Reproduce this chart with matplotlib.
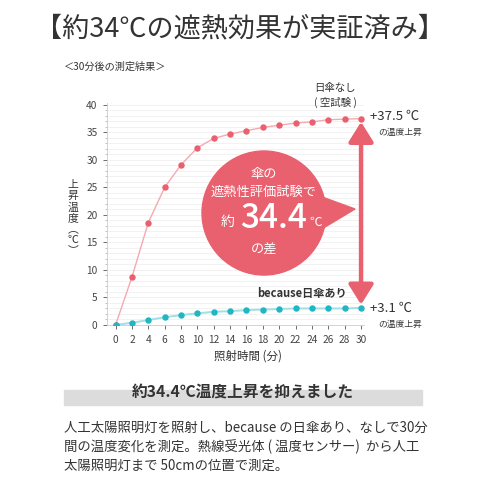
import numpy as np
import matplotlib
matplotlib.use("Agg")
import matplotlib.pyplot as plt
from matplotlib.patches import Circle, Polygon, Rectangle

plt.rcParams['font.family'] = ['Noto Sans CJK JP', 'DejaVu Sans']

minutes = [0, 2, 4, 6, 8, 10, 12, 14, 16, 18, 20, 22, 24, 26, 28, 30]
no_umbrella = [0, 8.7, 18.6, 25.0, 29.1, 32.2, 33.9, 34.7, 35.3, 35.9, 36.3, 36.7, 36.9, 37.3, 37.4, 37.5]
with_umbrella = [0, 0.4, 0.9, 1.4, 1.8, 2.1, 2.4, 2.5, 2.7, 2.8, 2.9, 3.0, 3.0, 3.0, 3.0, 3.1]
yticks = [0, 5, 10, 15, 20, 25, 30, 35, 40]

red = '#e9606f'
red_line = '#f5a9b0'
blue = '#20b6c2'
blue_line = '#9fe0e4'
dark = '#333333'

fig = plt.figure(figsize=(4.8, 4.8), dpi=100)
ax = fig.add_axes([0.222, 0.323, 0.537, 0.462])

ax.plot(minutes, no_umbrella, color=red_line, lw=1, zorder=2)
ax.plot(minutes, no_umbrella, 'o', color=red, ms=3.6, zorder=3)
ax.plot(minutes, with_umbrella, color=blue_line, lw=1.4, zorder=2)
ax.plot(minutes, with_umbrella, 'o', color=blue, ms=3.6, zorder=3)

ax.set_xlim(-1.1, 30.4)
ax.set_ylim(0, 40.3)
ax.set_xticks(minutes)
ax.set_yticks(yticks)
ax.set_yticks(np.arange(0, 41, 1), minor=True)
ax.tick_params(axis='both', labelsize=7.3, colors='#555555', length=3, width=0.6, direction='out')
ax.tick_params(axis='y', which='minor', length=1.5, width=0.5, colors='#aaaaaa')
ax.tick_params(axis='x', pad=4)
for t in ax.get_xticklabels() + ax.get_yticklabels():
    t.set_color('#444444')
ax.grid(axis='y', which='both', color='#f0f0f0', lw=0.6, zorder=0)
for s in ['top', 'right']:
    ax.spines[s].set_visible(False)
for s in ['left', 'bottom']:
    ax.spines[s].set_color('#cccccc')
    ax.spines[s].set_linewidth(0.6)

# double arrow between the two end values
ax.annotate('', xy=(minutes[-1], no_umbrella[-1] - 0.6), xytext=(minutes[-1], with_umbrella[-1] + 0.6),
            arrowprops=dict(arrowstyle='<|-|>,head_length=1.2,head_width=0.75', color=red, lw=3.2,
                            shrinkA=0, shrinkB=0), zorder=4)

# speech bubble
cx, cy, r = 264 / 480, 1 - 213 / 480, 62 / 480
fig.patches.append(Polygon([[cx + r * 0.85, 1 - 195 / 480], [355 / 480, 1 - 209 / 480], [cx + r * 0.85, 1 - 232 / 480]],
                           closed=True, transform=fig.transFigure, color=red, zorder=5))
fig.patches.append(Circle((cx, cy), r, transform=fig.transFigure, color=red, zorder=5))
fig.text(cx, 1 - 175 / 480, '傘の', color='white', fontsize=9.5, ha='center', va='center', zorder=6)
fig.text(cx, 1 - 192 / 480, '遮熱性評価試験で', color='white', fontsize=9.5, ha='center', va='center', zorder=6)
fig.text(228 / 480, 1 - 222 / 480, '約', color='white', fontsize=10, ha='center', va='center', zorder=6)
fig.text(274 / 480, 1 - 219 / 480, '34.4', color='white', fontsize=24, ha='center', va='center', zorder=6,
         fontweight='medium')
fig.text(316 / 480, 1 - 222 / 480, '℃', color='white', fontsize=9, ha='center', va='center', zorder=6)
fig.text(cx, 1 - 250 / 480, 'の差', color='white', fontsize=9.5, ha='center', va='center', zorder=6)

# title and labels
fig.text(0.5, 1 - 29 / 480, '【約34℃の遮熱効果が実証済み】', fontsize=19.5, color=dark, ha='center', va='center')
fig.text(64 / 480, 1 - 67 / 480, '＜30分後の測定結果＞', fontsize=7.3, color=dark, ha='left', va='center')
fig.text(335 / 480, 1 - 88 / 480, '日傘なし', fontsize=7.5, color=dark, ha='center', va='center')
fig.text(335 / 480, 1 - 102 / 480, '( 空試験 )', fontsize=7.5, color=dark, ha='center', va='center')
fig.text(370 / 480, 1 - 116 / 480, '+37.5 ℃', fontsize=9.5, color=dark, ha='left', va='center')
fig.text(378 / 480, 1 - 132 / 480, 'の温度上昇', fontsize=6.3, color=dark, ha='left', va='center')
fig.text(370 / 480, 1 - 308 / 480, '+3.1 ℃', fontsize=9.5, color=dark, ha='left', va='center')
fig.text(378 / 480, 1 - 324 / 480, 'の温度上昇', fontsize=6.3, color=dark, ha='left', va='center')
fig.text(302 / 480, 1 - 294 / 480, 'because日傘あり', fontsize=8, color=dark, ha='center', va='center',
         fontweight='bold')
fig.text(73 / 480, 1 - 218 / 480, '上\n昇\n温\n度\n︵\n℃\n︶', fontsize=7.8, color=dark, ha='center', va='center',
         linespacing=1.1)
fig.text(248 / 480, 1 - 356 / 480, '照射時間 (分)', fontsize=8.3, color=dark, ha='center', va='center')

fig.patches.append(Rectangle((64 / 480, 1 - 405 / 480), 358 / 480, 15 / 480, transform=fig.transFigure,
                             color='#dcdcdc', zorder=0))
fig.text(243 / 480, 1 - 392 / 480, '約34.4℃温度上昇を抑えました', fontsize=11.3, color=dark, ha='center',
         va='center', fontweight='bold', zorder=2)

lines = ['人工太陽照明灯を照射し、because の日傘あり、なしで30分',
         '間の温度変化を測定。熱線受光体 ( 温度センサー)  から人工',
         '太陽照明灯まで 50cmの位置で測定。']
for i, line in enumerate(lines):
    fig.text(64 / 480, 1 - (428 + 19 * i) / 480, line, fontsize=9.6, color=dark, ha='left', va='center')

fig.savefig('out.png', dpi=100, facecolor='white')
